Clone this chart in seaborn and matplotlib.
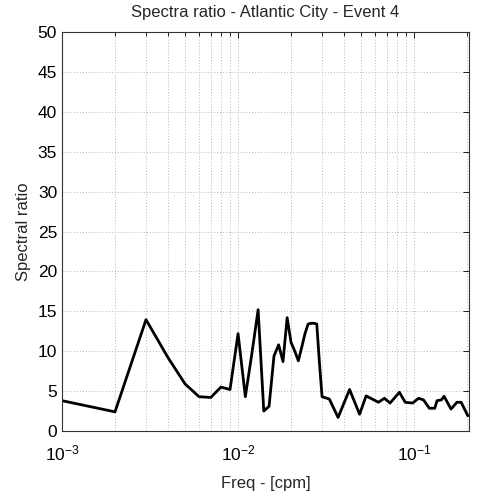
import matplotlib
matplotlib.use("Agg")
import matplotlib.pyplot as plt
import seaborn as sns
import pandas as pd
import numpy as np
from matplotlib.ticker import LogLocator, NullFormatter, MultipleLocator

freq = [0.001, 0.002, 0.003, 0.004, 0.005, 0.006, 0.007, 0.008, 0.009, 0.010,
        0.011, 0.012, 0.013, 0.014, 0.015, 0.016, 0.017, 0.018, 0.019, 0.020,
        0.021, 0.022, 0.023, 0.024, 0.025, 0.026, 0.027, 0.028, 0.029, 0.030,
        0.031, 0.033, 0.037, 0.043, 0.049, 0.0534, 0.0627, 0.0678, 0.073, 0.0825,
        0.089, 0.098, 0.106, 0.113, 0.122, 0.131, 0.135, 0.143, 0.148, 0.162,
        0.175, 0.185, 0.202]
ratio = [3.8, 2.4, 13.95, 9.2, 5.9, 4.3, 4.2, 5.5, 5.2, 12.2,
         4.3, 9.8, 15.2, 2.5, 3.1, 9.4, 10.8, 8.7, 14.2, 11.1,
         10.0, 8.8, 10.5, 12.2, 13.4, 13.5, 13.5, 13.4, 8.5, 4.3,
         4.2, 4.0, 1.7, 5.2, 2.1, 4.4, 3.6, 4.1, 3.5, 4.85,
         3.6, 3.5, 4.1, 3.9, 2.85, 2.85, 3.8, 3.9, 4.35, 2.75,
         3.6, 3.6, 1.9]

title = "Spectra ratio - Atlantic City - Event 4"
xlabel = "Freq - [cpm]"
ylabel = "Spectral ratio"

sns.set_style("white")
plt.rcParams["font.family"] = ["Liberation Sans", "DejaVu Sans"]
plt.rcParams["mathtext.fontset"] = "custom"
plt.rcParams["mathtext.rm"] = "Liberation Sans"
plt.rcParams["mathtext.it"] = "Liberation Sans"

df = pd.DataFrame({"freq": freq, "ratio": ratio})

fig = plt.figure(figsize=(4.78, 4.94), dpi=100)
ax = fig.add_axes([62/478, 1-431/494, (469-62)/478, (431-32)/494])

sns.lineplot(data=df, x="freq", y="ratio", ax=ax, color="black", linewidth=2.0,
             sort=False, estimator=None)

ax.set_xscale("log")
ax.set_xlim(1e-3, 0.205)
ax.set_ylim(0, 50)
ax.yaxis.set_major_locator(MultipleLocator(5))
ax.xaxis.set_major_locator(LogLocator(base=10, numticks=10))
ax.xaxis.set_minor_locator(LogLocator(base=10, subs=np.arange(2, 10), numticks=100))
ax.xaxis.set_minor_formatter(NullFormatter())

ax.grid(True, which="major", axis="both", color="#b8b8b8", linestyle=(0, (1, 2)), linewidth=0.7)
ax.grid(True, which="minor", axis="x", color="#b8b8b8", linestyle=(0, (1, 2)), linewidth=0.7)

ax.tick_params(which="both", direction="in", top=True, right=True, labelsize=12.5, colors="black")
ax.tick_params(which="major", length=4, width=0.6)
ax.tick_params(which="minor", length=3, width=0.6)
ax.tick_params(axis="x", which="major", pad=9)
for s in ax.spines.values():
    s.set_color("#333333")
    s.set_linewidth(0.8)

ax.set_title(title, fontsize=12, pad=11)
ax.set_xlabel(xlabel, fontsize=12, labelpad=9)
ax.set_ylabel(ylabel, fontsize=12, labelpad=5)

fig.savefig("out.png", dpi=100)
